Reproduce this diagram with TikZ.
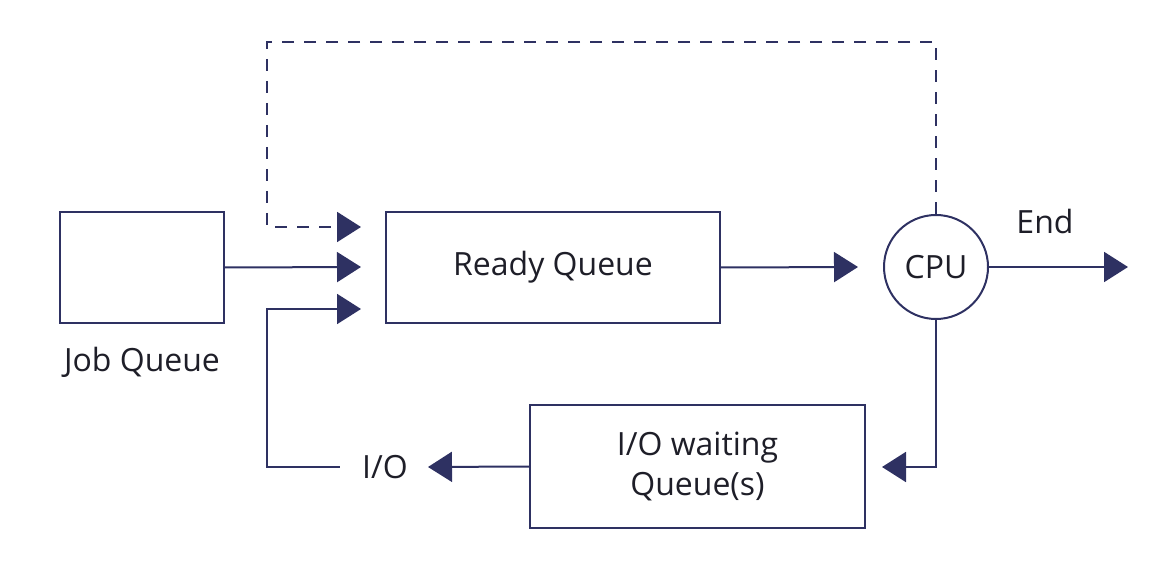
\documentclass[tikz,border=0pt]{standalone}
\usepackage{fontspec}
\setmainfont{Open Sans}
\usetikzlibrary{arrows.meta}

\definecolor{navy}{HTML}{2E3162}
\definecolor{ink}{HTML}{1E1E28}

\begin{document}
\begin{tikzpicture}[x=0.5pt, y=-0.5pt,
    queue/.style={rectangle, draw=navy, line width=1pt, inner sep=0pt, text=ink,
        font=\fontsize{16}{20}\selectfont, align=center},
    cpunode/.style={circle, draw=navy, line width=1pt, minimum size=52pt, inner sep=0pt,
        text=ink, font=\fontsize{16}{20}\selectfont},
    tag/.style={text=ink, font=\fontsize{16}{20}\selectfont, inner sep=0pt},
    flow/.style={navy, line width=1pt, -{Triangle[length=12pt, width=15pt]}},
    back/.style={flow, dashed, dash pattern=on 6pt off 5pt}]

    \useasboundingbox (0,0) rectangle (1172,582);

    % Define the queues and the CPU
    \node[queue, minimum width=82pt, minimum height=55.5pt] (job) at (142,267.5) {};
    \node[tag] (joblabel) at (142,362) {Job Queue};
    \node[queue, minimum width=167pt, minimum height=55.5pt] (ready) at (553,267.5) {Ready Queue};
    \node[cpunode] (cpu) at (936,267) {CPU};
    \node[queue, minimum width=167.5pt, minimum height=61.5pt] (iowait) at (697.5,466.5) {I/O waiting\\Queue(s)};
    \node[tag, inner xsep=11pt] (io) at (385,467) {I/O};
    \node[tag] (end) at (1045,222) {End};

    % Points where the arrows end
    \coordinate (in1) at (361,227);
    \coordinate (in2) at (361,267);
    \coordinate (in3) at (361,309);
    \coordinate (cpuin) at (858,267);
    \coordinate (out) at (1128,267);
    \coordinate (waitin) at (882,467);
    \coordinate (ioin) at (428,467);
    \coordinate (top) at (267,42);
    \coordinate (bottom) at (267,467);

    % Draw the connectors
    \draw[flow] (job.east) -- (in2);
    \draw[flow] (ready.east) -- (cpuin);
    \draw[flow] (cpu.east) -- (out);
    \draw[flow] (cpu.south) |- (waitin);
    \draw[flow] (iowait.west) -- (ioin);
    \draw[flow] (io.west) -- (bottom) |- (in3);
    \draw[back] (cpu.north) |- (top) |- (in1);
\end{tikzpicture}
\end{document}
